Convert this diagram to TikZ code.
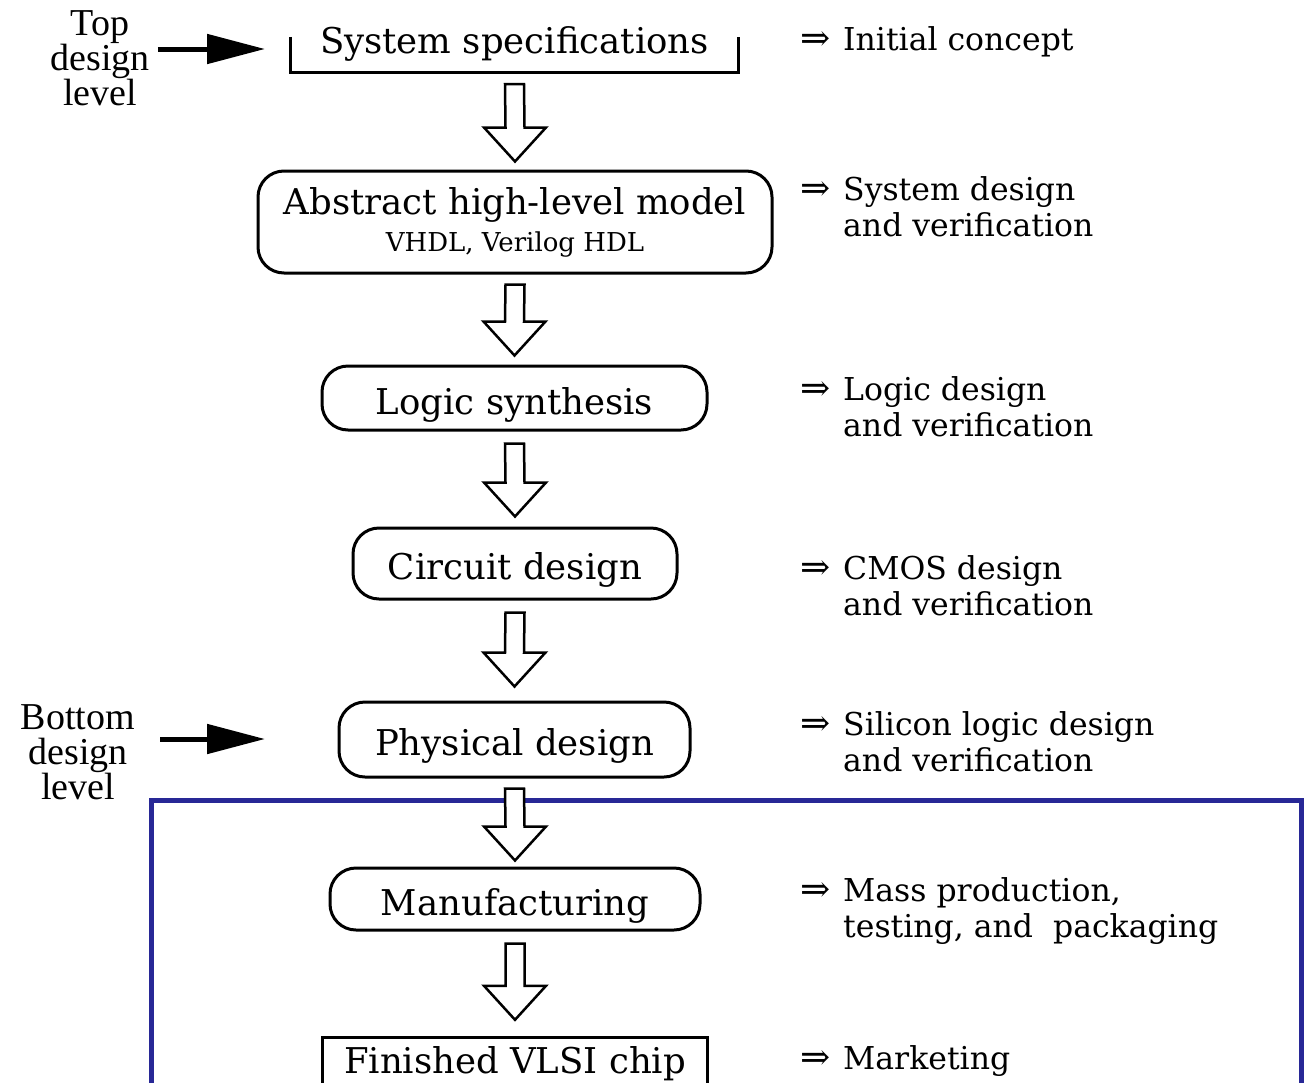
\documentclass[tikz,border=0pt]{standalone}
\usepackage{fontspec}
\setmainfont{DejaVu Serif}
\newfontfamily\sidefont{Liberation Serif}
\usetikzlibrary{calc,arrows.meta}
\definecolor{frameblue}{RGB}{40,40,150}

\tikzset{
  stage/.style={draw, line width=3pt, rounded corners=26pt, inner sep=0pt,
    text height=32pt, text depth=0pt, font=\fontsize{35.5}{40}\selectfont},
  note/.style={anchor=base west, inner sep=0pt, font=\fontsize{31.5}{36}\selectfont},
  levellabel/.style={inner sep=0pt, align=center, font=\sidefont\fontsize{38}{35}\selectfont},
  flow/.style={draw, line width=2.5pt, fill=white, line join=miter},
  levelarrow/.style={line width=5pt, -{Triangle[length=58pt,width=29pt]}},
}

% hollow block arrow from the bottom of one stage to the top of the next
\newcommand\flowstep[4]{%
  \draw[flow] ($(#1.south)+(-9.5,#3)$) -- ($(#2.north)+(-9.5,-#4-34)$)
    -- ($(#2.north)+(-31,-#4-34)$) -- ($(#2.north)+(0,-#4)$)
    -- ($(#2.north)+(31,-#4-34)$) -- ($(#2.north)+(9.5,-#4-34)$)
    -- ($(#1.south)+(9.5,#3)$) -- cycle;}

% implication mark followed by a text, optionally on two lines
\newcommand\implies[1]{\makebox[43pt][l]{\fontsize{36}{36}\selectfont ⇒}#1}
\newcommand\twolines[2]{\begin{tabular}[t]{@{}l@{}}\implies{#1}\\\hspace*{43pt}#2\end{tabular}}

\begin{document}
\begin{tikzpicture}[x=1pt,y=-1pt]
\useasboundingbox (0,0) rectangle (1306,1082);

% region of the flow that follows the design levels
\draw[frameblue, line width=5pt] (151,1120) -- (151,800) -- (1301,800) -- (1301,1120);

% stages
\node[inner sep=0pt, minimum width=447pt, text height=16pt, text depth=19pt,
      font=\fontsize{35.5}{40}\selectfont] (spec) at (514.5,54.5) {System specifications};
\draw[line width=3pt] (spec.north west) -- (spec.south west) -- (spec.south east) -- (spec.north east);

\node[draw, line width=3pt, rounded corners=26pt, inner sep=0pt, align=center,
      minimum width=514pt, minimum height=102pt, font=\fontsize{35.5}{40}\selectfont]
  (abs) at (515,222) {Abstract high-level model\\[-3pt]{\fontsize{26}{28}\selectfont VHDL, Verilog HDL}};

\node[stage, minimum width=385pt, minimum height=64pt] (logic) at (514.5,398) {Logic synthesis};
\node[stage, minimum width=324pt, minimum height=71pt] (circuit) at (515,563.5) {Circuit design};
\node[stage, minimum width=351pt, minimum height=75pt] (physical) at (514.5,739.5) {Physical design};
\node[stage, minimum width=370pt, minimum height=62pt] (manuf) at (515,899) {Manufacturing};

\node[inner sep=0pt, minimum width=384pt, text height=35pt, text depth=30pt,
      font=\fontsize{35.5}{40}\selectfont] (fin) at (515,1070.5) {Finished VLSI chip};
\draw[line width=3pt] (fin.south west) -- (fin.north west) -- (fin.north east) -- (fin.south east);

% flow arrows
\flowstep{spec}{abs}{12}{8}
\flowstep{abs}{logic}{10}{9}
\flowstep{logic}{circuit}{12}{10}
\flowstep{circuit}{physical}{12}{14}
\flowstep{physical}{manuf}{10}{6}
\flowstep{manuf}{fin}{12}{18}

% design level markers
\node[levellabel] (toplevel) at (100,58) {Top\\design\\level};
\coordinate (toptip) at (265,49);
\draw[levelarrow] ([xshift=8pt]toplevel.east |- toptip) -- (toptip);

\node[levellabel] (botlevel) at (78,752) {Bottom\\design\\level};
\coordinate (bottip) at (265,739);
\draw[levelarrow] ([xshift=25pt]botlevel.east |- bottip) -- (bottip);

% outcomes of each stage
\node[note] (o1) at (800,50) {\implies{Initial concept}};
\node[note] (o2) at (800,200) {\twolines{System design}{and verification}};
\node[note] (o3) at (800,400) {\twolines{Logic design}{and verification}};
\node[note] (o4) at (800,579) {\twolines{CMOS design}{and verification}};
\node[note] (o5) at (800,735) {\twolines{Silicon logic design}{and verification}};
\node[note] (o6) at (800,901) {\twolines{Mass production,}{testing, and\ \ packaging}};
\node[note] (o7) at (800,1069) {\implies{Marketing}};
\end{tikzpicture}
\end{document}
